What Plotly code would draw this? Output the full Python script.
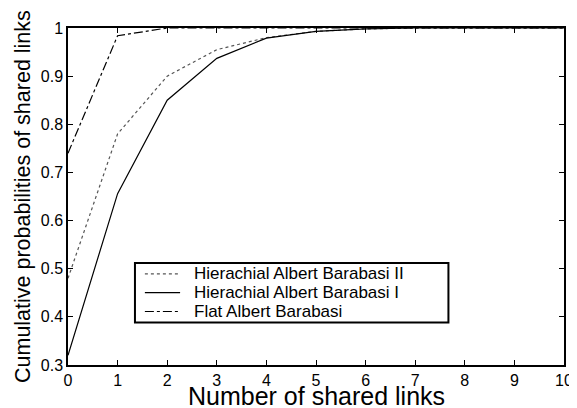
import plotly.graph_objects as go

x_vals = [0, 1, 2, 3, 4, 5, 6, 7, 8, 9, 10]
hier2 = [0.48, 0.78, 0.90, 0.955, 0.98, 0.993, 0.998, 1.0, 1.0, 1.0, 1.0]
hier1 = [0.32, 0.656, 0.85, 0.937, 0.979, 0.993, 0.998, 1.0, 1.0, 1.0, 1.0]
flat = [0.74, 0.984, 1.0, 1.0, 1.0, 1.0, 1.0, 1.0, 1.0, 1.0, 1.0]
names = ["Hierachial Albert Barabasi II", "Hierachial Albert Barabasi I", "Flat Albert Barabasi"]
y_ticks = [0.3, 0.4, 0.5, 0.6, 0.7, 0.8, 0.9, 1.0]
y_tick_labels = ["0.3", "0.4", "0.5", "0.6", "0.7", "0.8", "0.9", "1"]
x_title = "Number of shared links"
y_title = "Cumulative probabilities of shared links"

styles = [dict(color="#555555", width=1.2, dash="dot"),
          dict(color="black", width=1.2, dash="solid"),
          dict(color="black", width=1.2, dash="dashdot")]

fig = go.Figure()
for ys, nm, st in zip([hier2, hier1, flat], names, styles):
    fig.add_trace(go.Scatter(x=x_vals, y=ys, mode="lines", name=nm, line=st,
                             showlegend=False))

font = "Liberation Sans, Arial, Helvetica, sans-serif"

# Legend box (shapes + annotations to match the tight row spacing)
lx0, lx1, ly0, ly1 = 0.135, 0.767, 0.126, 0.303
fig.add_shape(type="rect", xref="paper", yref="paper", x0=lx0, x1=lx1, y0=ly0, y1=ly1,
              line=dict(color="black", width=2), fillcolor="white", layer="above")
row_y = [0.2706, 0.2147, 0.1588]
for ry, nm, st in zip(row_y, names, styles):
    fig.add_shape(type="line", xref="paper", yref="paper", x0=0.155, x1=0.226,
                  y0=ry, y1=ry, line=st, layer="above")
    fig.add_annotation(xref="paper", yref="paper", x=0.249, y=ry, text=nm,
                       showarrow=False, xanchor="left", yanchor="middle",
                       font=dict(size=17, family=font, color="black"))

# Axis titles
fig.add_annotation(xref="paper", yref="paper", x=0.5, y=-0.092, text=x_title,
                   showarrow=False, xanchor="center", yanchor="middle",
                   font=dict(size=25, family=font, color="black"))
fig.add_annotation(xref="paper", yref="paper", x=-0.0917, y=0.5, text=y_title,
                   showarrow=False, xanchor="center", yanchor="middle", textangle=-90,
                   font=dict(size=21.5, family=font, color="black"))

fig.update_layout(
    width=577, height=408,
    margin=dict(l=60, r=19, t=17, b=51),
    paper_bgcolor="white", plot_bgcolor="white",
    font=dict(family=font, color="black", size=16),
    showlegend=False,
    xaxis=dict(range=[0, 10], tickvals=x_vals, ticks="inside", ticklen=5,
               tickcolor="black", showline=True, linecolor="black", linewidth=1.5,
               mirror="ticks", showgrid=False, zeroline=False,
               tickfont=dict(size=16)),
    yaxis=dict(range=[0.3, 1.0], tickvals=y_ticks, ticktext=y_tick_labels,
               ticks="inside", ticklen=5, tickcolor="black",
               showline=True, linecolor="black", linewidth=1.5, mirror="ticks",
               showgrid=False, zeroline=False, tickfont=dict(size=16)),
)
fig.write_html("out.html")
